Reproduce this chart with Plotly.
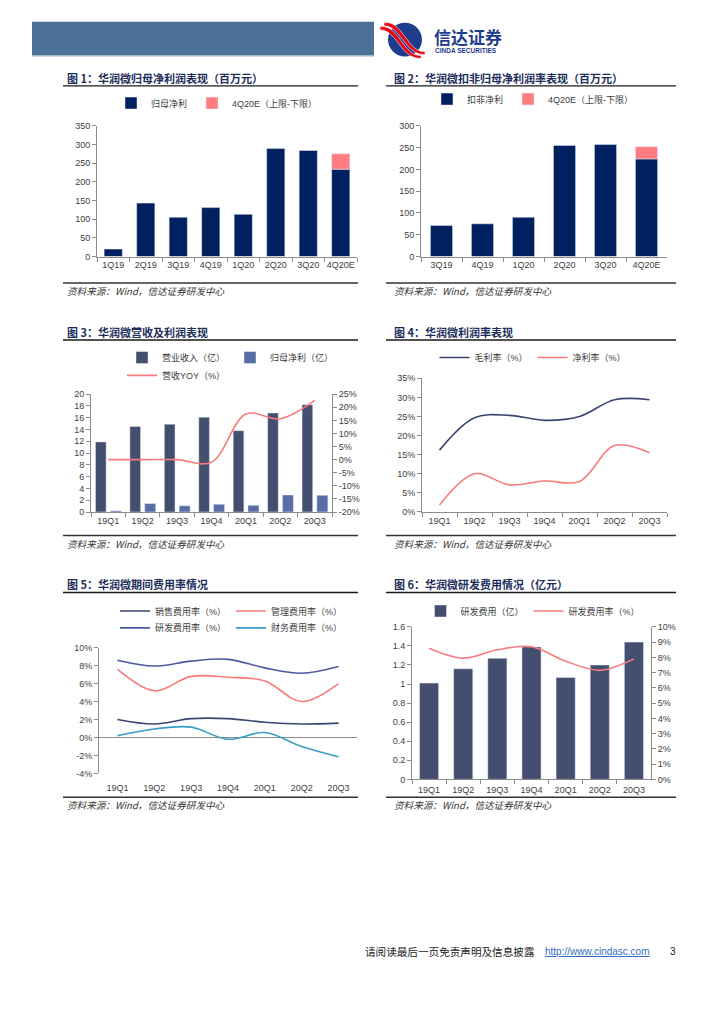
import plotly.graph_objects as go

W, H = 724, 1024

def px(x):
    return x / W

def py(y):
    return 1 - y / H

# ---------------- data ----------------
c1_cats = ['1Q19', '2Q19', '3Q19', '4Q19', '1Q20', '2Q20', '3Q20', '4Q20E']
c1_net_profit = [20, 143, 105, 131, 113, 289, 284, 234]
c1_est_cat = ['4Q20E']
c1_est_low = [234]
c1_est_span = [41]
c1_yticks = [0, 50, 100, 150, 200, 250, 300, 350]
c1_ytext = ['0', '50', '100', '150', '200', '250', '300', '350']

c2_cats = ['3Q19', '4Q19', '1Q20', '2Q20', '3Q20', '4Q20E']
c2_kf_profit = [71, 75, 90, 255, 257, 224]
c2_est_cat = ['4Q20E']
c2_est_low = [224]
c2_est_span = [28]
c2_yticks = [0, 50, 100, 150, 200, 250, 300]
c2_ytext = ['0', '50', '100', '150', '200', '250', '300']

quarters = ['19Q1', '19Q2', '19Q3', '19Q4', '20Q1', '20Q2', '20Q3']

c3_revenue = [11.9, 14.5, 14.9, 16.1, 13.8, 16.8, 18.2]
c3_net_profit = [0.2, 1.43, 1.05, 1.31, 1.13, 2.89, 2.84]
c3_rev_yoy = [0.0, 0.0, 0.0, -1.0, 17.4, 15.6, 22.6]
c3_lticks = [0, 2, 4, 6, 8, 10, 12, 14, 16, 18, 20]
c3_ltext = ['0', '2', '4', '6', '8', '10', '12', '14', '16', '18', '20']
c3_rticks = [-20, -15, -10, -5, 0, 5, 10, 15, 20, 25]
c3_rtext = ['-20%', '-15%', '-10%', '-5%', '0%', '5%', '10%', '15%', '20%', '25%']

c4_gross = [16.2, 24.7, 25.3, 24.0, 25.0, 29.4, 29.4]
c4_net = [1.8, 10.0, 7.1, 8.1, 8.0, 17.4, 15.5]
c4_yticks = [0, 5, 10, 15, 20, 25, 30, 35]
c4_ytext = ['0%', '5%', '10%', '15%', '20%', '25%', '30%', '35%']

c5_sales = [2.0, 1.5, 2.1, 2.1, 1.7, 1.5, 1.6]
c5_admin = [7.6, 5.2, 6.8, 6.7, 6.3, 4.0, 6.0]
c5_rd = [8.6, 7.95, 8.5, 8.7, 7.75, 7.15, 7.9]
c5_fin = [0.2, 0.95, 1.15, -0.2, 0.55, -1.0, -2.15]
c5_yticks = [-4, -2, 0, 2, 4, 6, 8, 10]
c5_ytext = ['-4%', '-2%', '0%', '2%', '4%', '6%', '8%', '10%']

c6_rd_exp = [1.01, 1.16, 1.27, 1.39, 1.07, 1.20, 1.44]
c6_rd_rate = [8.6, 7.95, 8.5, 8.7, 7.75, 7.15, 7.9]
c6_lticks = [0, 0.2, 0.4, 0.6, 0.8, 1.0, 1.2, 1.4, 1.6]
c6_ltext = ['0', '0.2', '0.4', '0.6', '0.8', '1', '1.2', '1.4', '1.6']
c6_rticks = [0, 1, 2, 3, 4, 5, 6, 7, 8, 9, 10]
c6_rtext = ['0%', '1%', '2%', '3%', '4%', '5%', '6%', '7%', '8%', '9%', '10%']

# ---------------- style ----------------
NAVY = '#002060'
EST = '#ff7c80'
SLATE = '#444e6e'
MIDBLUE = '#5a6da6'
SALMON = '#f77b7b'
DARKLINE = '#3b4670'
RDLINE = '#4a5aa2'
TEAL = '#3a9ec4'
AX = '#8c8c8c'
TXT = '#404040'
CJK = 'Noto Sans CJK SC'
LAT = 'Liberation Sans, Arial, Noto Sans CJK SC'
TITLE_C = '#1c2d5c'

fig = go.Figure()

# chart 1
fig.add_trace(go.Bar(x=c1_cats, y=c1_net_profit, name='归母净利', marker_color=NAVY,
                     width=0.56, offset=-0.28, xaxis='x', yaxis='y', legend='legend'))
fig.add_trace(go.Bar(x=c1_est_cat, y=c1_est_span, base=c1_est_low, name='4Q20E（上限-下限）',
                     marker_color=EST, width=0.56, offset=-0.28, xaxis='x', yaxis='y', legend='legend'))
# chart 2
fig.add_trace(go.Bar(x=c2_cats, y=c2_kf_profit, name='扣非净利', marker_color=NAVY,
                     width=0.54, offset=-0.27, xaxis='x2', yaxis='y2', legend='legend2'))
fig.add_trace(go.Bar(x=c2_est_cat, y=c2_est_span, base=c2_est_low, name='4Q20E（上限-下限）',
                     marker_color=EST, width=0.54, offset=-0.27, xaxis='x2', yaxis='y2', legend='legend2'))
# chart 3
fig.add_trace(go.Bar(x=quarters, y=c3_revenue, name='营业收入（亿）', marker_color=SLATE,
                     width=0.31, offset=-0.37, xaxis='x3', yaxis='y3', legend='legend3'))
fig.add_trace(go.Bar(x=quarters, y=c3_net_profit, name='归母净利（亿）', marker_color=MIDBLUE,
                     width=0.32, offset=0.06, xaxis='x3', yaxis='y3', legend='legend3'))
fig.add_trace(go.Scatter(x=quarters, y=c3_rev_yoy, name='营收YOY（%）', mode='lines',
                         line=dict(color=SALMON, width=1.6, shape='spline', smoothing=1),
                         xaxis='x3', yaxis='y7', legend='legend4'))
# chart 4
fig.add_trace(go.Scatter(x=quarters, y=c4_gross, name='毛利率（%）', mode='lines',
                         line=dict(color=DARKLINE, width=1.6, shape='spline', smoothing=1),
                         xaxis='x4', yaxis='y4', legend='legend5'))
fig.add_trace(go.Scatter(x=quarters, y=c4_net, name='净利率（%）', mode='lines',
                         line=dict(color=SALMON, width=1.6, shape='spline', smoothing=1),
                         xaxis='x4', yaxis='y4', legend='legend5'))
# chart 5
fig.add_trace(go.Scatter(x=quarters, y=c5_sales, name='销售费用率（%）', mode='lines',
                         line=dict(color=DARKLINE, width=1.6, shape='spline', smoothing=1),
                         xaxis='x5', yaxis='y5', legend='legend6'))
fig.add_trace(go.Scatter(x=quarters, y=c5_admin, name='管理费用率（%）', mode='lines',
                         line=dict(color=SALMON, width=1.6, shape='spline', smoothing=1),
                         xaxis='x5', yaxis='y5', legend='legend6'))
fig.add_trace(go.Scatter(x=quarters, y=c5_rd, name='研发费用率（%）', mode='lines',
                         line=dict(color=RDLINE, width=1.6, shape='spline', smoothing=1),
                         xaxis='x5', yaxis='y5', legend='legend7'))
fig.add_trace(go.Scatter(x=quarters, y=c5_fin, name='财务费用率（%）', mode='lines',
                         line=dict(color=TEAL, width=1.6, shape='spline', smoothing=1),
                         xaxis='x5', yaxis='y5', legend='legend7'))
# chart 6
fig.add_trace(go.Bar(x=quarters, y=c6_rd_exp, name='研发费用（亿）', marker_color=SLATE,
                     width=0.56, offset=-0.28, xaxis='x6', yaxis='y6', legend='legend8'))
fig.add_trace(go.Scatter(x=quarters, y=c6_rd_rate, name='研发费用率（%）', mode='lines',
                         line=dict(color=SALMON, width=1.6, shape='spline', smoothing=1),
                         xaxis='x6', yaxis='y8', legend='legend8'))

tickfont = dict(family=LAT, size=9, color=TXT)


def xax(x0, x1, anchor, n, line=True, standoff=0):
    return dict(domain=[px(x0), px(x1)], anchor=anchor, type='category',
                range=[-0.5, n - 0.5], showline=line, linecolor=AX, linewidth=1,
                ticks='outside' if line else '', tickson='boundaries', ticklen=4,
                tickcolor=AX, showgrid=False, zeroline=False, tickfont=tickfont,
                tickangle=0, ticklabelstandoff=standoff, fixedrange=True)


def yax(y_top, y_bot, anchor, rng, tv, tt, side='left', overlaying=None, zeroline=False):
    d = dict(domain=[py(y_bot), py(y_top)], anchor=anchor, range=rng, tickvals=tv,
             ticktext=tt, showline=True, linecolor=AX, linewidth=1, ticks='outside',
             ticklen=4, tickcolor=AX, showgrid=False, zeroline=zeroline,
             zerolinecolor=AX, zerolinewidth=1, tickfont=tickfont, side=side,
             fixedrange=True)
    if overlaying:
        d['overlaying'] = overlaying
    return d


def leg(xc, yc, xanchor='center'):
    return dict(x=px(xc), y=py(yc), xref='paper', yref='paper', xanchor=xanchor,
                yanchor='middle', orientation='h', bgcolor='rgba(0,0,0,0)',
                font=dict(family=LAT, size=9, color=TXT), itemwidth=30,
                tracegroupgap=0, itemclick=False, itemdoubleclick=False)


shapes = []
annotations = []


def hline(x0, x1, y, color='#222222', width=1.3):
    shapes.append(dict(type='line', xref='paper', yref='paper', x0=px(x0), x1=px(x1),
                       y0=py(y), y1=py(y), line=dict(color=color, width=width)))


def text(x, y, s, size=9, color=TXT, family=CJK, xanchor='left', yanchor='middle'):
    annotations.append(dict(x=px(x), y=py(y), xref='paper', yref='paper', text=s,
                            showarrow=False, xanchor=xanchor, yanchor=yanchor,
                            font=dict(size=size, color=color, family=family)))


def path(points_cmds):
    out = []
    for cmd, pts in points_cmds:
        coords = ' '.join('%.5f,%.5f' % (px(a), py(b)) for a, b in pts)
        out.append(cmd + ' ' + coords if pts else cmd)
    return ' '.join(out)


# header
shapes.append(dict(type='rect', xref='paper', yref='paper', x0=px(32), x1=px(374),
                   y0=py(51), y1=py(17), fillcolor='#4b7096', line=dict(width=0)))
hline(32, 374, 52, color='#c9d6e6', width=1)
# logo circle
shapes.append(dict(type='circle', xref='paper', yref='paper', x0=px(388), x1=px(422),
                   y0=py(52), y1=py(18), fillcolor='#1d3c8c', line=dict(width=0)))
for dx, dy in [(0, 0), (-4, 4)]:
    p = path([
        ('M', [(384 + dx, 18 + dy)]),
        ('C', [(395 + dx, 16 + dy), (401 + dx, 27 + dy), (408 + dx, 36 + dy)]),
        ('C', [(414 + dx, 44 + dy), (418 + dx, 47 + dy), (425 + dx, 47 + dy)]),
        ('L', [(425 + dx, 50 + dy)]),
        ('C', [(417 + dx, 50 + dy), (411 + dx, 46 + dy), (405 + dx, 38 + dy)]),
        ('C', [(399 + dx, 30 + dy), (393 + dx, 21 + dy), (384 + dx, 21 + dy)]),
        ('Z', []),
    ])
    shapes.append(dict(type='path', xref='paper', yref='paper', path=p,
                       fillcolor='#e60012', line=dict(color='white', width=0.6)))
text(432, 32, '<b>信达证券</b>', size=17, color='#1d3c8c', family=CJK)
text(433, 45.5, '<b>CINDA SECURITIES</b>', size=6.5, color='#1d3c8c', family=LAT)

# panel titles, rules, sources
panels = [
    (65, 63, 358, 74, 81.7, 280.7, 289, '图 1：华润微归母净利润表现（百万元）'),
    (392, 386, 676, 74, 81.7, 280.7, 289, '图 2：华润微扣非归母净利润率表现（百万元）'),
    (65, 63, 358, 330, 338.3, 535.7, 544, '图 3：华润微营收及利润表现'),
    (392, 386, 676, 330, 338.3, 535.7, 544, '图 4：华润微利润率表现'),
    (65, 63, 358, 585, 593.3, 800, 808, '图 5：华润微期间费用率情况'),
    (392, 386, 676, 585, 593.3, 800, 808, '图 6：华润微研发费用情况（亿元）'),
]
for tx, l0, l1, ty, ly, sy, sty, title in panels:
    text(tx, ty, '<b>' + title + '</b>', size=11, color=TITLE_C)
    hline(l0, l1, ly, color='#1a1a1a', width=1.4)
    hline(l0, l1, sy, color='#333333', width=1.4)
    text(tx, sty, '<i>资料来源：Wind，信达证券研发中心</i>', size=9.6, color='#333333')

# footer
text(363, 956, '请阅读最后一页免责声明及信息披露', size=10.6, color='#222222')
text(543, 956, '<u>http://www.cindasc.com</u>', size=10, color='#2f6fbf', family=LAT)
text(668, 956, '3', size=10, color='#222222', family=LAT)

fig.update_layout(
    width=W, height=H, margin=dict(l=0, r=0, t=0, b=0),
    paper_bgcolor='white', plot_bgcolor='white',
    barmode='overlay', showlegend=True,
    xaxis=xax(97, 357, 'y', len(c1_cats)),
    yaxis=yax(122, 254, 'x', [0, 350], c1_yticks, c1_ytext),
    xaxis2=xax(421, 667, 'y2', len(c2_cats)),
    yaxis2=yax(122, 254, 'x2', [0, 300], c2_yticks, c2_ytext),
    xaxis3=xax(91, 332, 'y3', len(quarters)),
    yaxis3=yax(393, 512, 'x3', [0, 20], c3_lticks, c3_ltext),
    yaxis7=yax(393, 512, 'x3', [-20, 25], c3_rticks, c3_rtext, side='right', overlaying='y3'),
    xaxis4=xax(422, 667, 'y4', len(quarters)),
    yaxis4=yax(377, 512, 'x4', [0, 35], c4_yticks, c4_ytext),
    xaxis5=xax(99, 357, 'y5', len(quarters), line=False, standoff=8),
    yaxis5=yax(649, 776, 'x5', [-4, 10], c5_yticks, c5_ytext, zeroline=True),
    xaxis6=xax(412, 651, 'y6', len(quarters), standoff=2),
    yaxis6=yax(628, 782, 'x6', [0, 1.6], c6_lticks, c6_ltext),
    yaxis8=yax(628, 782, 'x6', [0, 10], c6_rticks, c6_rtext, side='right', overlaying='y6'),
    legend=leg(217, 99),
    legend2=leg(533, 95),
    legend3=leg(122, 356, 'left'),
    legend4=leg(122, 374, 'left'),
    legend5=leg(533, 356),
    legend6=leg(115, 612, 'left'),
    legend7=leg(115, 629, 'left'),
    legend8=leg(533, 612),
    shapes=shapes,
    annotations=annotations,
)

fig.write_html('out.html', config={'displayModeBar': False},
               post_script="document.body.style.margin='0';document.body.style.overflow='hidden';")
